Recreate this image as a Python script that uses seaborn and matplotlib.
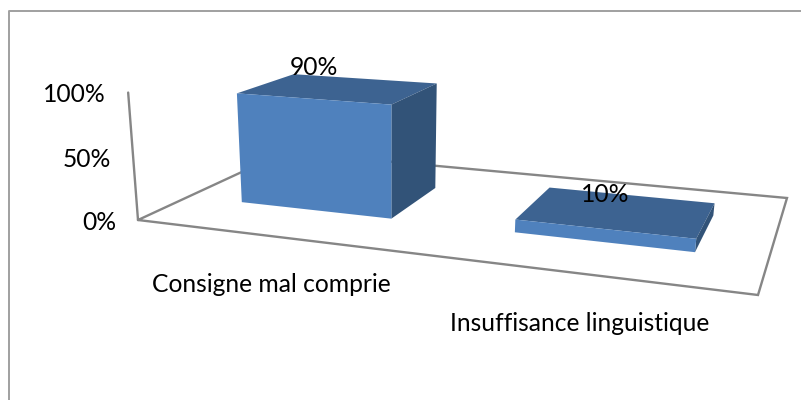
import numpy as np
import pandas as pd
import matplotlib
matplotlib.use('Agg')
import matplotlib.pyplot as plt
from matplotlib.transforms import Transform
import seaborn as sns

categories = ['Consigne mal comprie', 'Insuffisance linguistique']
values = [0.9, 0.1]
labels = ['90%', '10%']
ticks = [0, 0.5, 1]
tick_labels = ['0%', '50%', '100%']

# oblique view of the Excel 3D chart: (category, depth, value, 1) -> pixel
CAMERA = np.array([[2.52346504e+02, 2.27370349e+02, -1.53493206e+01, 2.70770418e+02],
                   [1.10874323e+01, -3.21345467e+01, -1.37165988e+02, 2.36060938e+02],
                   [-9.56111047e-02, 2.57343624e-01, -3.93335387e-02, 1.00000000e+00]])
DEPTH_FRONT, DEPTH_BACK = 0.3, 0.7
BAR_WIDTH = 0.57
FONT = 17.7


def project(x, z, v):
    x, z, v = np.broadcast_arrays(x, z, v)
    q = CAMERA @ np.vstack([x, z, v, np.ones(x.shape)])
    return np.column_stack([q[0]/q[2], q[1]/q[2]])


class FrontFace(Transform):
    input_dims = 2
    output_dims = 2
    is_affine = False

    def transform_non_affine(self, values):
        values = np.asarray(values)
        return project(values[:, 0], DEPTH_FRONT, values[:, 1])


sns.set_style('white')
plt.rcParams['font.family'] = ['Lato', 'DejaVu Sans']
fig = plt.figure(figsize=(8.01, 4.00), dpi=100)
ax = fig.add_axes([0, 0, 1, 1])

df = pd.DataFrame({'cat': categories, 'val': values})
sns.barplot(data=df, x='cat', y='val', color='#4F81BD', saturation=1, width=BAR_WIDTH,
            linewidth=0, ax=ax, zorder=3)
bars = list(ax.patches)
ax.set_xlim(0, 801)
ax.set_ylim(400, 0)
ax.axis('off')

GREY = '#868686'
# chart frame
ax.plot([8.5, 8.5, 801], [400, 11, 11], color='#a0a0a0', lw=1.4, clip_on=False)
# floor and value axis
floor = project([-.5, 1.5, 1.5, -.5, -.5], [0, 0, 1, 1, 0], 0)
ax.plot(floor[:, 0], floor[:, 1], color=GREY, lw=1.7, zorder=1, solid_joinstyle='miter')
axis = project(-.5, 0, [0, 1])
ax.plot(axis[:, 0], axis[:, 1], color=GREY, lw=1.7, zorder=1)

for bar, label, lift in zip(bars, labels, [31, 34]):
    x0 = bar.get_x()
    x1 = x0 + bar.get_width()
    v = bar.get_height()
    bar.set_transform(FrontFace() + ax.transData)
    bar.set_clip_on(False)
    top = project([x0, x1, x1, x0], [DEPTH_FRONT, DEPTH_FRONT, DEPTH_BACK, DEPTH_BACK], v)
    side = project(x1, [DEPTH_FRONT, DEPTH_BACK, DEPTH_BACK, DEPTH_FRONT], [v, v, 0, 0])
    ax.fill(top[:, 0], top[:, 1], color='#3D6391', lw=0, zorder=2)
    ax.fill(side[:, 0], side[:, 1], color='#325378', lw=0, zorder=2)
    px = project((x0 + x1)/2, DEPTH_FRONT, v)[0]
    ax.annotate(label, px, xytext=(2, lift), textcoords='offset pixels', ha='center',
                va='center', fontsize=FONT, color='black', zorder=5)

for t, lab in zip(ticks, tick_labels):
    px = project(-.5, 0, t)[0]
    ax.annotate(lab, px, xytext=(-22, -2), textcoords='offset pixels', ha='right',
                va='center', fontsize=FONT, color='black')

for i, lab in enumerate(categories):
    px = project(i, 0, 0)[0]
    ax.annotate(lab, px, xytext=(1, -48 - 2*i), textcoords='offset pixels', ha='center',
                va='center', fontsize=FONT, color='black')

fig.savefig('out.png', dpi=100)
